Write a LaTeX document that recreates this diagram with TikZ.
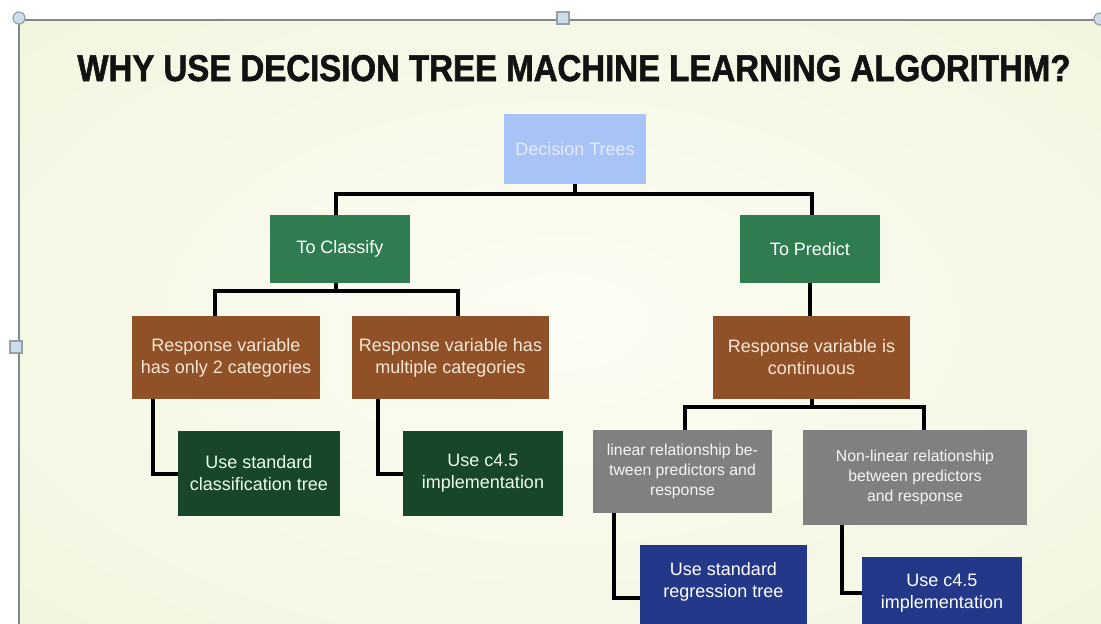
\documentclass[tikz,border=0pt]{standalone}
\usepackage{fontspec}
\setmainfont{Liberation Sans}
\newfontfamily\titlefont[FakeBold=1.6]{Liberation Sans Bold}
\usetikzlibrary{positioning}
\definecolor{bgin}{RGB}{252,253,244}
\definecolor{bgout}{RGB}{232,239,203}
\definecolor{framec}{RGB}{128,136,140}
\definecolor{handlec}{RGB}{205,222,235}
\definecolor{dtblue}{RGB}{168,196,246}
\definecolor{dttext}{RGB}{228,236,250}
\definecolor{midgreen}{RGB}{46,124,80}
\definecolor{brownc}{RGB}{144,80,40}
\definecolor{browntext}{RGB}{246,232,212}
\definecolor{darkgreen}{RGB}{24,70,40}
\definecolor{greyc}{RGB}{128,128,128}
\definecolor{navyc}{RGB}{36,56,138}
\definecolor{titlec}{RGB}{18,18,18}
\pgfdeclareradialshading[bgin,bgout]{bgshade}{\pgfpoint{0bp}{0bp}}{color(0bp)=(bgin); color(20bp)=(bgin!70!bgout); color(72bp)=(bgout)}
\tikzset{
  box/.style={rectangle, inner sep=2pt, align=center, font=\fontsize{18}{22}\selectfont},
  smallbox/.style={box, font=\fontsize{15.8}{20}\selectfont},
  conn/.style={line width=4pt, black},
  handle/.style={draw=framec!80, fill=handlec, line width=1.2pt},
}
\begin{document}
\begin{tikzpicture}[x=1pt,y=-1pt]
\clip (0,0) rectangle (1101,624);
\fill[white] (0,0) rectangle (1101,624);
\shade[shading=bgshade] (19,20) rectangle (1101,624);
% frame lines
\draw[framec, line width=2pt] (19,20) -- (1101,20);
\draw[framec, line width=2pt] (19,20) -- (19,624);
% title
\node[anchor=base, text=titlec, inner sep=0pt] (title) at (574,81)
  {\resizebox{993pt}{26pt}{\titlefont WHY USE DECISION TREE MACHINE LEARNING ALGORITHM?}};
% nodes
\node[box, fill=dtblue, text=dttext, minimum width=142, minimum height=70] (dt) at (575,149) {Decision Trees};
\node[box, fill=midgreen, text=white, minimum width=140, minimum height=68] (cls) at (340,249) {To Classify};
\node[box, fill=midgreen, text=white, minimum width=140, minimum height=68] (prd) at (810,249) {To Predict};
\node[box, fill=brownc, text=browntext, minimum width=188, minimum height=83] (r1) at (226,357.5) {Response variable\\has only 2 categories};
\node[box, fill=brownc, text=browntext, minimum width=197, minimum height=83] (r2) at (450.5,357.5) {Response variable has\\multiple categories};
\node[box, fill=brownc, text=browntext, minimum width=197, minimum height=83] (r3) at (811.5,357.5) {Response variable is\\continuous};
\node[box, fill=darkgreen, text=white!92!green, minimum width=162, minimum height=85] (g1) at (259,473.5) {Use standard\\classification tree};
\node[box, fill=darkgreen, text=white!92!green, minimum width=160, minimum height=85] (g2) at (483,473.5) {Use c4.5\\implementation};
\node[smallbox, fill=greyc, text=white!92!gray, minimum width=179, minimum height=83] (q1) at (682.5,471.5) {linear relationship be-\\tween predictors and\\response};
\node[smallbox, fill=greyc, text=white!92!gray, minimum width=224, minimum height=95] (q2) at (915,477.5) {Non-linear relationship\\between predictors\\and response};
\node[box, fill=navyc, minimum width=167, minimum height=105] (n1) at (723.5,597.5) {};
\node[box, text=white] (n1t) at (723.5,581.5) {Use standard\\regression tree};
\node[box, fill=navyc, text=white, minimum width=160, minimum height=72] (n2) at (942,593) {Use c4.5\\implementation};
% connectors
\draw[conn] (dt.south) -- ++(0,10) -| ([xshift=-4]cls.north);
\draw[conn] (dt.south) -- ++(0,10) -| ([xshift=2]prd.north);
\draw[conn] ([xshift=-4]cls.south) -- ++(0,8) -| ([xshift=-11]r1.north);
\draw[conn] ([xshift=-4]cls.south) -- ++(0,8) -| ([xshift=7.5]r2.north);
\draw[conn] (prd.south) -- ([xshift=-1.5]r3.north);
\draw[conn] (r3.south) -- ++(0,8) -| ([xshift=2.5]q1.north);
\draw[conn] (r3.south) -- ++(0,8) -| ([xshift=9]q2.north);
\draw[conn] ([xshift=21]r1.south west) |- (g1.west);
\draw[conn] ([xshift=26]r2.south west) |- (g2.west);
\draw[conn] ([xshift=21]q1.south west) |- (n1.west);
\draw[conn] ([xshift=39]q2.south west) |- (n2.west);
% handles
\draw[handle] (19,18) circle (6);
\draw[handle] (1100,19) circle (6);
\draw[handle] (557,12) rectangle (569,24);
\draw[handle] (10,341) rectangle (22,353);
\end{tikzpicture}
\end{document}
